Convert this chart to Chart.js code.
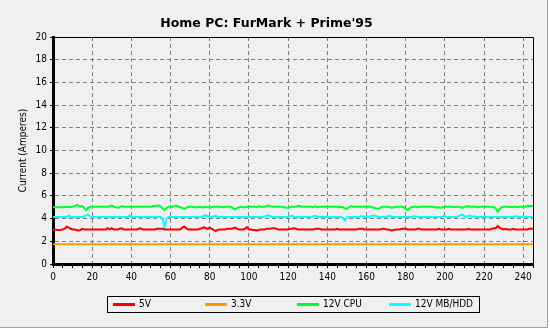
<!DOCTYPE html>
<html><head><meta charset="utf-8">
<script src="https://cdn.jsdelivr.net/npm/chart.js@4"></script>
<style>html,body{margin:0;padding:0;background:#f0f0f0;overflow:hidden}</style>
</head><body><canvas id="c" width="550" height="329"></canvas>
<script>
const titleText = "Home PC: FurMark + Prime'95";
const yAxisTitle = "Current (Amperes)";
const seriesNames = ["5V", "3.3V", "12V CPU", "12V MB/HDD"];
const seriesColors = ["#ff0000", "#ff9900", "#00ff33", "#00ffff"];
const xRange = [0, 245];
const yRange = [0, 20];
const xMajorStep = 20, xMinorStep = 5, yStep = 2;

const cur5V = [
3.05,3.05,3.0,3.0,3.0,3.05,3.1,3.3,3.2,3.1,
3.05,3.05,3.0,2.95,3.0,3.1,3.05,3.05,3.05,3.05,
3.05,3.05,3.05,3.05,3.05,3.05,3.05,3.05,3.15,3.05,
3.15,3.05,3.05,3.05,3.1,3.15,3.05,3.05,3.05,3.05,
3.05,3.05,3.05,3.05,3.15,3.1,3.05,3.05,3.05,3.05,
3.05,3.05,3.05,3.1,3.1,3.1,3.1,3.05,3.05,3.05,
3.05,3.05,3.05,3.05,3.05,3.05,3.2,3.3,3.15,3.05,
3.05,3.05,3.05,3.05,3.05,3.1,3.15,3.25,3.15,3.1,
3.2,3.1,3.0,2.9,3.0,3.05,3.05,3.05,3.05,3.1,
3.1,3.1,3.15,3.2,3.1,3.05,3.05,3.05,3.1,3.25,
3.05,3.05,3.0,3.0,2.95,3.0,3.05,3.05,3.05,3.1,
3.1,3.1,3.15,3.15,3.1,3.05,3.05,3.05,3.05,3.05,
3.05,3.1,3.1,3.15,3.1,3.05,3.05,3.05,3.05,3.05,
3.05,3.05,3.05,3.05,3.1,3.1,3.1,3.05,3.05,3.05,
3.05,3.05,3.05,3.05,3.05,3.1,3.05,3.05,3.05,3.05,
3.05,3.05,3.05,3.05,3.05,3.05,3.1,3.1,3.1,3.05,
3.05,3.05,3.05,3.05,3.05,3.05,3.05,3.05,3.1,3.1,
3.05,3.05,3.0,2.95,3.0,3.05,3.05,3.05,3.1,3.1,
3.1,3.05,3.05,3.05,3.05,3.05,3.1,3.1,3.05,3.05,
3.05,3.05,3.05,3.05,3.05,3.05,3.05,3.1,3.05,3.05,
3.05,3.05,3.1,3.05,3.05,3.05,3.05,3.05,3.05,3.05,
3.05,3.05,3.1,3.05,3.05,3.05,3.05,3.05,3.05,3.05,
3.05,3.05,3.05,3.05,3.1,3.15,3.15,3.35,3.2,3.1,
3.05,3.1,3.05,3.05,3.05,3.1,3.05,3.05,3.05,3.05,
3.05,3.05,3.05,3.1,3.1,3.1
];

const cur3V3 = [
1.75,1.75,1.75,1.75,1.75,1.75,1.75,1.75,1.75,1.75,
1.75,1.75,1.75,1.75,1.75,1.75,1.75,1.75,1.75,1.75,
1.75,1.75,1.75,1.75,1.75,1.75,1.75,1.75,1.75,1.75,
1.75,1.75,1.75,1.75,1.75,1.75,1.75,1.75,1.75,1.75,
1.75,1.75,1.75,1.75,1.75,1.75,1.75,1.75,1.75,1.75,
1.75,1.75,1.75,1.75,1.75,1.75,1.75,1.75,1.75,1.75,
1.75,1.75,1.75,1.75,1.75,1.75,1.75,1.75,1.75,1.75,
1.75,1.75,1.75,1.75,1.75,1.75,1.75,1.75,1.75,1.75,
1.75,1.75,1.75,1.75,1.75,1.75,1.75,1.75,1.75,1.75,
1.75,1.75,1.75,1.75,1.75,1.75,1.75,1.75,1.75,1.75,
1.75,1.75,1.75,1.75,1.75,1.75,1.75,1.75,1.75,1.75,
1.75,1.75,1.75,1.75,1.75,1.75,1.75,1.75,1.75,1.75,
1.75,1.75,1.75,1.75,1.75,1.75,1.75,1.75,1.75,1.75,
1.75,1.75,1.75,1.75,1.75,1.75,1.75,1.75,1.75,1.75,
1.75,1.75,1.75,1.75,1.75,1.75,1.75,1.75,1.75,1.75,
1.75,1.75,1.75,1.75,1.75,1.75,1.75,1.75,1.75,1.75,
1.75,1.75,1.75,1.75,1.75,1.75,1.75,1.75,1.75,1.75,
1.75,1.75,1.75,1.75,1.75,1.75,1.75,1.75,1.75,1.75,
1.75,1.75,1.75,1.75,1.75,1.75,1.75,1.75,1.75,1.75,
1.75,1.75,1.75,1.75,1.75,1.75,1.75,1.75,1.75,1.75,
1.75,1.75,1.75,1.75,1.75,1.75,1.75,1.75,1.75,1.75,
1.75,1.75,1.75,1.75,1.75,1.75,1.75,1.75,1.75,1.75,
1.75,1.75,1.75,1.75,1.75,1.75,1.75,1.75,1.75,1.75,
1.75,1.75,1.75,1.75,1.75,1.75,1.75,1.75,1.75,1.75,
1.75,1.75,1.75,1.75,1.75,1.75
];

const cur12CPU = [
5.0,5.0,5.0,5.0,5.0,5.0,5.02,5.02,5.02,5.02,
5.05,5.1,5.2,5.15,5.05,5.1,4.9,4.75,4.95,5.05,
5.05,5.05,5.05,5.05,5.05,5.05,5.05,5.05,5.05,5.1,
5.15,5.05,5.0,4.95,5.0,5.1,5.05,5.05,5.05,5.05,
5.05,5.05,5.05,5.05,5.05,5.05,5.05,5.05,5.05,5.05,
5.05,5.1,5.1,5.15,5.15,5.05,4.9,4.75,4.95,5.05,
5.05,5.05,5.1,5.15,5.05,5.0,4.95,4.85,4.95,5.05,
5.05,5.05,5.0,5.0,5.0,5.05,5.0,5.0,5.05,5.0,
5.0,5.0,5.05,5.05,5.05,5.05,5.05,5.0,5.05,5.05,
5.05,5.0,4.9,4.8,4.95,5.0,5.05,5.0,5.0,5.05,
5.05,5.05,5.05,5.05,5.0,5.1,5.05,5.05,5.05,5.1,
5.15,5.1,5.05,5.05,5.05,5.05,5.05,5.05,5.0,4.95,
4.95,5.0,5.05,5.05,5.05,5.1,5.1,5.05,5.05,5.05,
5.05,5.05,5.05,5.0,5.1,5.0,5.05,5.05,5.05,5.05,
5.05,5.05,5.05,5.05,5.05,5.05,5.0,5.05,5.0,4.9,
4.85,5.0,5.1,5.05,5.05,5.05,5.05,5.05,5.05,5.05,
5.05,5.05,5.05,5.0,4.95,4.9,4.85,4.95,5.05,5.05,
5.05,5.05,5.0,4.95,5.0,5.05,5.05,5.05,5.05,5.0,
4.85,4.75,4.9,5.0,5.05,5.05,5.0,5.05,5.05,5.05,
5.05,5.05,5.05,5.05,5.05,5.0,4.95,5.0,4.95,5.0,
5.05,5.05,5.05,5.05,5.05,5.0,5.05,5.05,5.0,4.95,
5.05,5.05,5.1,5.05,5.05,5.05,5.05,5.0,5.05,5.05,
5.05,5.05,5.05,5.05,5.05,5.0,4.9,4.6,4.85,5.0,
5.05,5.05,5.05,5.05,5.0,5.05,5.05,5.0,5.05,5.05,
5.0,5.05,5.1,5.1,5.1,5.1
];

const cur12MB = [
4.15,4.15,4.15,4.15,4.15,4.15,4.15,4.15,4.25,4.15,
4.15,4.15,4.15,4.15,4.15,4.15,4.2,4.3,4.35,4.2,
4.15,4.15,4.15,4.15,4.15,4.15,4.15,4.15,4.15,4.15,
4.15,4.15,4.15,4.15,4.15,4.15,4.15,4.15,4.15,4.25,
4.15,4.15,4.15,4.15,4.15,4.15,4.15,4.15,4.15,4.15,
4.15,4.15,4.15,4.15,4.15,4.15,3.9,3.25,4.0,4.15,
4.15,4.15,4.15,4.15,4.15,4.15,4.15,4.15,4.15,4.15,
4.15,4.15,4.15,4.15,4.15,4.15,4.15,4.25,4.3,4.2,
4.15,4.15,4.2,4.25,4.15,4.15,4.15,4.15,4.15,4.15,
4.15,4.15,4.15,4.15,4.15,4.15,4.15,4.15,4.15,4.15,
4.15,4.15,4.15,4.15,4.15,4.15,4.15,4.15,4.2,4.25,
4.3,4.2,4.15,4.15,4.15,4.15,4.15,4.15,4.15,4.15,
4.15,4.2,4.25,4.15,4.15,4.15,4.15,4.15,4.15,4.15,
4.15,4.15,4.15,4.2,4.25,4.15,4.15,4.15,4.15,4.15,
4.15,4.15,4.15,4.15,4.15,4.15,4.15,4.15,4.05,3.85,
4.1,4.15,4.15,4.15,4.15,4.15,4.15,4.2,4.2,4.15,
4.15,4.15,4.2,4.25,4.25,4.2,4.15,4.15,4.15,4.15,
4.15,4.2,4.25,4.15,4.15,4.15,4.15,4.15,4.15,4.15,
4.15,4.15,4.15,4.15,4.2,4.2,4.15,4.15,4.15,4.15,
4.15,4.15,4.15,4.15,4.15,4.15,4.15,4.15,4.15,4.2,
4.2,4.15,4.15,4.15,4.15,4.15,4.15,4.2,4.3,4.35,
4.2,4.15,4.25,4.25,4.15,4.2,4.15,4.15,4.15,4.15,
4.15,4.15,4.15,4.15,4.15,4.15,4.15,4.15,4.15,4.15,
4.15,4.15,4.15,4.15,4.15,4.15,4.2,4.2,4.15,4.15,
4.15,4.15,4.15,4.15,4.15,4.15
];

const seriesValues = [cur5V, cur3V3, cur12CPU, cur12MB];
const tickFont = {family: "'DejaVu Sans Condensed','DejaVu Sans',sans-serif", size: 10};
const NONE = 'rgba(0,0,0,0)';

const bgPlugin = {
  id: 'bg',
  beforeDraw(chart) {
    const c = chart.ctx;
    c.save();
    c.fillStyle = '#f0f0f0';
    c.fillRect(0, 0, chart.width, chart.height);
    c.fillStyle = '#ffffff';
    c.fillRect(548, 0, 2, chart.height);
    c.fillRect(0, 328, chart.width, 1);
    c.strokeStyle = '#a0a0a0';
    c.lineWidth = 1;
    c.beginPath();
    c.moveTo(547.5, 0); c.lineTo(547.5, 327.5); c.lineTo(0, 327.5);
    c.stroke();
    c.restore();
  },
  afterDraw(chart) {
    const c = chart.ctx, a = chart.chartArea;
    c.save();
    c.strokeStyle = '#000';
    c.lineWidth = 1;
    c.beginPath();
    c.moveTo(a.left, Math.round(a.top) + 0.5);
    c.lineTo(Math.round(a.right) + 0.5, Math.round(a.top) + 0.5);
    c.lineTo(Math.round(a.right) + 0.5, a.bottom);
    c.stroke();
    // legend box
    const bx = 107.5, by = 296.5, bw = 372, bh = 16;
    c.strokeRect(bx, by, bw, bh);
    c.font = "10px 'DejaVu Sans Condensed','DejaVu Sans',sans-serif";
    c.textBaseline = 'middle';
    c.textAlign = 'left';
    chart.data.datasets.forEach((ds, i) => {
      const x0 = 113 + i * 92;
      const yy = 304.5;
      c.strokeStyle = ds.borderColor;
      c.lineWidth = 3;
      c.beginPath();
      c.moveTo(x0, yy); c.lineTo(x0 + 22, yy);
      c.stroke();
      c.fillStyle = '#000';
      c.fillText(ds.label, x0 + 26, yy);
    });
    c.restore();
  }
};

new Chart(document.getElementById('c'), {
  type: 'line',
  data: {
    datasets: seriesNames.map((name, i) => ({
      label: name,
      data: seriesValues[i].map((v, t) => ({x: t, y: v})),
      borderColor: seriesColors[i],
      backgroundColor: seriesColors[i],
      borderWidth: 2,
      pointRadius: 0,
      tension: 0,
      fill: false
    }))
  },
  options: {
    responsive: false,
    animation: false,
    devicePixelRatio: 1,
    layout: {padding: {left: 0, right: 17, top: 0, bottom: 0}},
    plugins: {
      legend: {display: false},
      tooltip: {enabled: false},
      title: {
        display: true,
        text: titleText,
        color: '#000',
        font: {family: "'DejaVu Sans',sans-serif", size: 12.5, weight: 'bold'},
        padding: {top: 16.5, bottom: 5.5}
      }
    },
    scales: {
      x: {
        type: 'linear',
        min: xRange[0], max: xRange[1],
        ticks: {
          stepSize: xMinorStep, autoSkip: false, maxRotation: 0, color: '#000', font: tickFont, padding: 3,
          callback: (v) => (v % xMajorStep === 0 ? String(v) : '')
        },
        grid: {
          color: (ctx) => (ctx.tick && ctx.tick.value % xMajorStep === 0 && ctx.tick.value !== 0) ? '#808080' : NONE,
          lineWidth: 1, drawTicks: true, tickLength: 4, tickColor: '#000', tickWidth: 1
        },
        border: {display: true, width: 3, color: '#000', dash: [4, 3]},
        afterFit(s) { s.height = 65; }
      },
      y: {
        min: yRange[0], max: yRange[1],
        ticks: {stepSize: yStep, color: '#000', font: tickFont, padding: 3},
        grid: {
          color: (ctx) => (ctx.tick && (ctx.tick.value === yRange[0] || ctx.tick.value === yRange[1])) ? NONE : '#808080',
          lineWidth: 1, drawTicks: true, tickLength: 3, tickColor: '#000', tickWidth: 1
        },
        border: {display: true, width: 3, color: '#000', dash: [4, 3]},
        title: {display: true, text: yAxisTitle, color: '#000', font: tickFont, padding: {top: 17, bottom: 0}},
        afterFit(s) { s.width = 53; }
      }
    }
  },
  plugins: [bgPlugin]
});
</script>
</body></html>
